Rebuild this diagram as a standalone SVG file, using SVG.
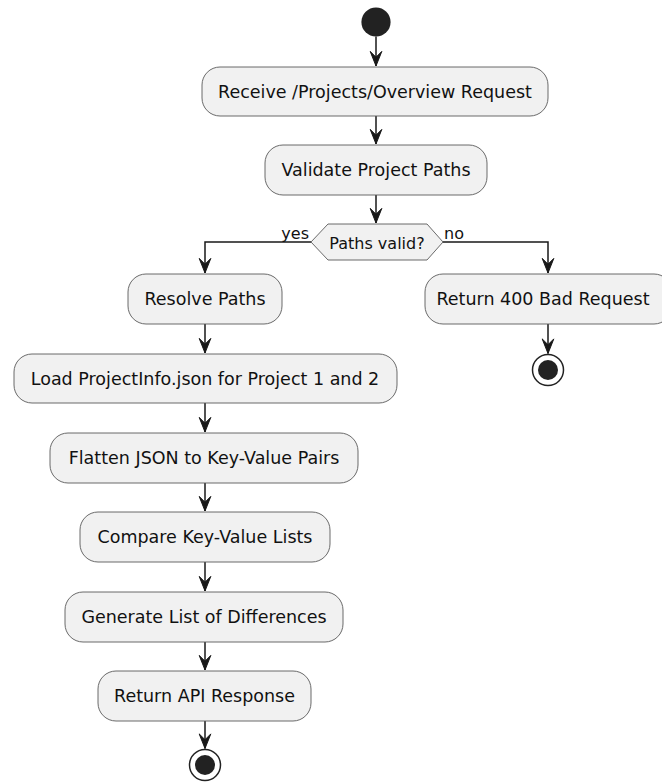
<svg xmlns="http://www.w3.org/2000/svg" width="662" height="783" viewBox="0 0 662 783">
<style>
.box{fill:#F1F1F1;stroke:#5A5A5A;stroke-width:0.9}
.t{font-family:"DejaVu Sans",sans-serif;font-size:17.5px;fill:#111;text-anchor:middle}
.s{font-family:"DejaVu Sans",sans-serif;font-size:16px;fill:#111}
.c{fill:none;stroke:#181818;stroke-width:1.5}
</style>
<defs>
<marker id="ah" markerUnits="userSpaceOnUse" viewBox="-16 -8 17 16" markerWidth="17" markerHeight="16" refX="0" refY="0" orient="auto">
<path d="M0,0 L-14.6,-5.8 L-8.8,0 L-14.6,5.8 Z" fill="#181818" stroke="#181818" stroke-width="1"/>
</marker>
</defs>
<rect width="662" height="783" fill="#FFFFFF"/>
<g id="connectors">
<path class="c" d="M376,36.6 L376,66" marker-end="url(#ah)"/>
<path class="c" d="M376,116 L376,144" marker-end="url(#ah)"/>
<path class="c" d="M376,195 L376,223" marker-end="url(#ah)"/>
<path class="c" d="M311,242 L205,242 L205,273" marker-end="url(#ah)"/>
<path class="c" d="M443,242 L548,242 L548,273" marker-end="url(#ah)"/>
<path class="c" d="M548,324 L548,353.5" marker-end="url(#ah)"/>
<path class="c" d="M205,324 L205,353" marker-end="url(#ah)"/>
<path class="c" d="M205,403 L205,432" marker-end="url(#ah)"/>
<path class="c" d="M205,483 L205,511" marker-end="url(#ah)"/>
<path class="c" d="M205,562 L205,591" marker-end="url(#ah)"/>
<path class="c" d="M205,642 L205,670" marker-end="url(#ah)"/>
<path class="c" d="M205,721 L205,748.5" marker-end="url(#ah)"/>
<text class="s" x="309" y="239" text-anchor="end">yes</text>
<text class="s" x="444" y="239">no</text>
</g>
<g id="start"><circle cx="376" cy="22" r="14.6" fill="#222222"/></g>
<g id="receive"><rect class="box" x="202" y="67" width="346" height="49" rx="18"/><text class="t" x="375" y="97.7">Receive /Projects/Overview Request</text></g>
<g id="validate"><rect class="box" x="265" y="145" width="222" height="50" rx="18"/><text class="t" x="376" y="176.2">Validate Project Paths</text></g>
<g id="decision"><polygon class="box" points="311,242 328,224 427,224 443,242 427,260 328,260"/><text class="s" x="377" y="249" text-anchor="middle">Paths valid?</text></g>
<g id="bad"><rect class="box" x="425" y="274" width="247" height="50" rx="18"/><text class="t" x="543" y="305.2">Return 400 Bad Request</text></g>
<g id="stop1"><circle cx="548" cy="370" r="15.5" fill="#FFFFFF" stroke="#222222" stroke-width="1.5"/><circle cx="548" cy="370" r="10" fill="#222222"/></g>
<g id="resolve"><rect class="box" x="128" y="274" width="154" height="50" rx="18"/><text class="t" x="205" y="305.2">Resolve Paths</text></g>
<g id="load"><rect class="box" x="14" y="354" width="383" height="49" rx="18"/><text class="t" x="205" y="384.7">Load ProjectInfo.json for Project 1 and 2</text></g>
<g id="flatten"><rect class="box" x="50" y="433" width="308" height="50" rx="18"/><text class="t" x="204" y="464.2">Flatten JSON to Key-Value Pairs</text></g>
<g id="compare"><rect class="box" x="80" y="512" width="250" height="50" rx="18"/><text class="t" x="205" y="543.2">Compare Key-Value Lists</text></g>
<g id="generate"><rect class="box" x="65" y="592" width="278" height="50" rx="18"/><text class="t" x="204" y="623.2">Generate List of Differences</text></g>
<g id="respond"><rect class="box" x="98" y="671" width="213" height="50" rx="18"/><text class="t" x="204.5" y="702.2">Return API Response</text></g>
<g id="stop2"><circle cx="205" cy="765" r="15.5" fill="#FFFFFF" stroke="#222222" stroke-width="1.5"/><circle cx="205" cy="765" r="10" fill="#222222"/></g>
</svg>
